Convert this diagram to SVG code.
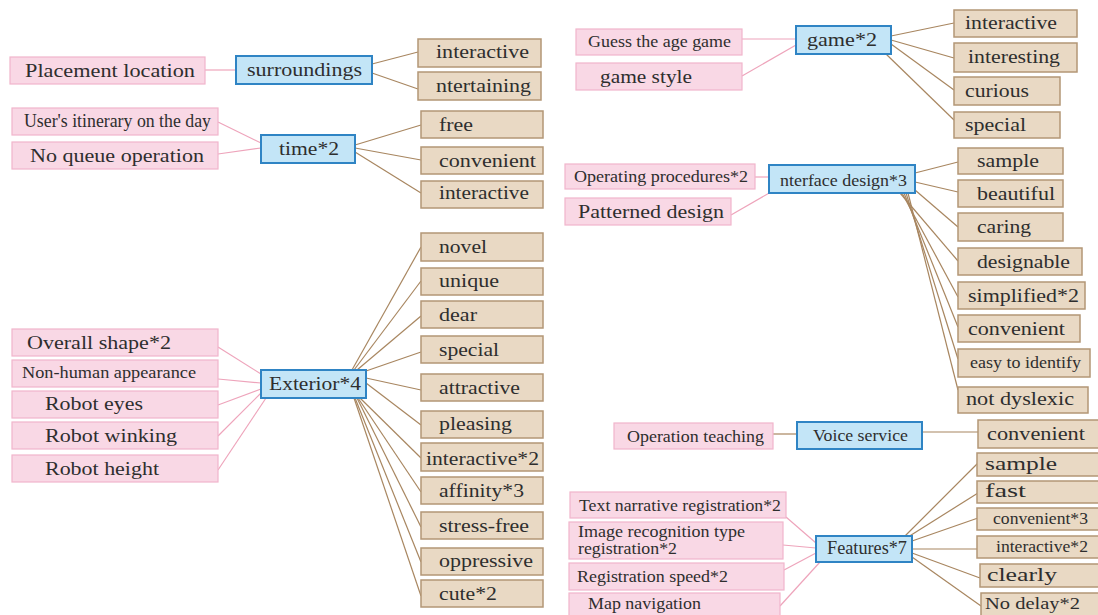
<svg xmlns="http://www.w3.org/2000/svg" width="1098" height="615" viewBox="0 0 1098 615">
<style>
text{font-family:"Liberation Serif","Times New Roman",serif;fill:#2e2e2e;font-size:18.5px}
.s{font-size:16px}
.m{font-size:17px}
.p{fill:#f9d8e5;stroke:#f1b5cb;stroke-width:1.2}
.b{fill:#c3e5f7;stroke:#2f84c4;stroke-width:2}
.t{fill:#e9d9c4;stroke:#b39676;stroke-width:1.5}
.lb{stroke:#a88660;stroke-width:1.2;fill:none}
.lp{stroke:#eea4bb;stroke-width:1.2;fill:none}
</style>
<rect width="1098" height="615" fill="#ffffff"/>
<g id="connectors">
<line class="lp" x1="205" y1="70" x2="236" y2="70"/>
<line class="lp" x1="218" y1="122" x2="261" y2="143"/>
<line class="lp" x1="218" y1="154" x2="261" y2="148"/>
<line class="lp" x1="218" y1="347" x2="261" y2="374"/>
<line class="lp" x1="218" y1="379" x2="261" y2="383"/>
<line class="lp" x1="218" y1="405" x2="261" y2="389"/>
<line class="lp" x1="218" y1="436" x2="261" y2="393"/>
<line class="lp" x1="218" y1="470" x2="266" y2="398"/>
<line class="lp" x1="742" y1="39" x2="796" y2="39"/>
<line class="lp" x1="742" y1="76" x2="796" y2="45"/>
<line class="lp" x1="755" y1="177" x2="769" y2="177"/>
<line class="lp" x1="731" y1="215" x2="771" y2="192"/>
<line class="lp" x1="786" y1="517" x2="816" y2="543"/>
<line class="lp" x1="783" y1="545" x2="816" y2="548"/>
<line class="lp" x1="784" y1="570" x2="816" y2="553"/>
<line class="lp" x1="780" y1="606" x2="820" y2="562"/>
<line class="lb" x1="372" y1="64" x2="418" y2="52"/>
<line class="lb" x1="372" y1="73" x2="418" y2="89"/>
<line class="lb" x1="355" y1="145" x2="421" y2="125"/>
<line class="lb" x1="355" y1="148" x2="421" y2="160"/>
<line class="lb" x1="355" y1="152" x2="421" y2="193"/>
<line class="lb" x1="352" y1="370" x2="421" y2="247"/>
<line class="lb" x1="354" y1="370" x2="421" y2="281"/>
<line class="lb" x1="357" y1="370" x2="421" y2="316"/>
<line class="lb" x1="366" y1="371" x2="421" y2="352"/>
<line class="lb" x1="366" y1="378" x2="421" y2="390"/>
<line class="lb" x1="366" y1="383" x2="421" y2="425"/>
<line class="lb" x1="360" y1="398" x2="421" y2="458"/>
<line class="lb" x1="358" y1="398" x2="421" y2="492"/>
<line class="lb" x1="357" y1="398" x2="421" y2="527"/>
<line class="lb" x1="355" y1="398" x2="421" y2="562"/>
<line class="lb" x1="354" y1="398" x2="421" y2="596"/>
<line class="lb" x1="891" y1="36" x2="954" y2="23"/>
<line class="lb" x1="891" y1="40" x2="954" y2="58"/>
<line class="lb" x1="891" y1="44" x2="954" y2="90"/>
<line class="lb" x1="886" y1="54" x2="954" y2="120"/>
<line class="lb" x1="915" y1="173" x2="958" y2="162"/>
<line class="lb" x1="915" y1="182" x2="958" y2="192"/>
<line class="lb" x1="915" y1="190" x2="958" y2="227"/>
<line class="lb" x1="900" y1="193" x2="958" y2="261"/>
<line class="lb" x1="902" y1="193" x2="958" y2="297"/>
<line class="lb" x1="904" y1="193" x2="958" y2="327"/>
<line class="lb" x1="906" y1="193" x2="958" y2="359"/>
<line class="lb" x1="908" y1="193" x2="958" y2="390"/>
<line class="lb" x1="773" y1="434" x2="797" y2="434"/>
<line class="lb" x1="922" y1="432" x2="978" y2="432"/>
<line class="lb" x1="905" y1="536" x2="978" y2="463"/>
<line class="lb" x1="908" y1="537" x2="978" y2="493"/>
<line class="lb" x1="912" y1="541" x2="978" y2="518"/>
<line class="lb" x1="912" y1="549" x2="978" y2="549"/>
<line class="lb" x1="912" y1="553" x2="980" y2="578"/>
<line class="lb" x1="912" y1="557" x2="981" y2="606"/>
</g>
<g id="n-placement"><rect class="p" x="10" y="57" width="195" height="27"/><text x="25" y="77" textLength="170" lengthAdjust="spacingAndGlyphs">Placement location</text></g>
<g id="n-itinerary"><rect class="p" x="12" y="108" width="206" height="27"/><text x="24" y="127" font-size="15" textLength="187" lengthAdjust="spacingAndGlyphs">User's itinerary on the day</text></g>
<g id="n-noqueue"><rect class="p" x="12" y="142" width="206" height="27"/><text x="30" y="162" textLength="174" lengthAdjust="spacingAndGlyphs">No queue operation</text></g>
<g id="n-overall"><rect class="p" x="12" y="329" width="206" height="27"/><text x="27" y="349" textLength="144" lengthAdjust="spacingAndGlyphs">Overall shape*2</text></g>
<g id="n-nonhuman"><rect class="p" x="12" y="360" width="206" height="27"/><text class="s" x="22" y="378" textLength="174" lengthAdjust="spacingAndGlyphs">Non-human appearance</text></g>
<g id="n-eyes"><rect class="p" x="12" y="391" width="206" height="27"/><text x="45" y="410" textLength="98" lengthAdjust="spacingAndGlyphs">Robot eyes</text></g>
<g id="n-winking"><rect class="p" x="12" y="422" width="206" height="27"/><text x="45" y="442" textLength="132" lengthAdjust="spacingAndGlyphs">Robot winking</text></g>
<g id="n-height"><rect class="p" x="12" y="455" width="206" height="27"/><text x="45" y="475" textLength="114" lengthAdjust="spacingAndGlyphs">Robot height</text></g>
<g id="n-guess"><rect class="p" x="576" y="29" width="166" height="26"/><text class="s" x="588" y="47" textLength="143" lengthAdjust="spacingAndGlyphs">Guess the age game</text></g>
<g id="n-gamestyle"><rect class="p" x="576" y="63" width="166" height="27"/><text x="600" y="83" textLength="92" lengthAdjust="spacingAndGlyphs">game style</text></g>
<g id="n-operating"><rect class="p" x="565" y="164" width="190" height="25"/><text class="m" x="574" y="182" textLength="174" lengthAdjust="spacingAndGlyphs">Operating procedures*2</text></g>
<g id="n-patterned"><rect class="p" x="565" y="198" width="166" height="27"/><text x="578" y="218" textLength="146" lengthAdjust="spacingAndGlyphs">Patterned design</text></g>
<g id="n-opteach"><rect class="p" x="614" y="423" width="159" height="26"/><text class="m" x="627" y="442" textLength="137" lengthAdjust="spacingAndGlyphs">Operation teaching</text></g>
<g id="n-textnarr"><rect class="p" x="570" y="492" width="216" height="26"/><text class="m" x="579" y="511" textLength="202" lengthAdjust="spacingAndGlyphs">Text narrative registration*2</text></g>
<g id="n-imagerec"><rect class="p" x="569" y="522" width="214" height="37"/><text class="m" x="578" y="537" textLength="167" lengthAdjust="spacingAndGlyphs">Image recognition type</text><text class="m" x="578" y="554" textLength="99" lengthAdjust="spacingAndGlyphs">registration*2</text></g>
<g id="n-regspeed"><rect class="p" x="569" y="563" width="215" height="27"/><text class="m" x="577" y="582" textLength="151" lengthAdjust="spacingAndGlyphs">Registration speed*2</text></g>
<g id="n-mapnav"><rect class="p" x="569" y="593" width="211" height="25"/><text class="m" x="588" y="609" textLength="113" lengthAdjust="spacingAndGlyphs">Map navigation</text></g>
<g id="n-surroundings"><rect class="b" x="236" y="56" width="136" height="28"/><text x="247" y="76" textLength="115" lengthAdjust="spacingAndGlyphs">surroundings</text></g>
<g id="n-time"><rect class="b" x="261" y="135" width="94" height="28"/><text x="279" y="155" textLength="60" lengthAdjust="spacingAndGlyphs">time*2</text></g>
<g id="n-exterior"><rect class="b" x="261" y="370" width="105" height="28"/><text x="269" y="390" textLength="92" lengthAdjust="spacingAndGlyphs">Exterior*4</text></g>
<g id="n-game"><rect class="b" x="796" y="26" width="95" height="28"/><text x="807" y="46" textLength="70" lengthAdjust="spacingAndGlyphs">game*2</text></g>
<g id="n-interface"><rect class="b" x="769" y="165" width="146" height="28"/><text class="m" x="780" y="186" textLength="127" lengthAdjust="spacingAndGlyphs">nterface design*3</text></g>
<g id="n-voice"><rect class="b" x="797" y="422" width="125" height="27"/><text class="m" x="813" y="441" textLength="95" lengthAdjust="spacingAndGlyphs">Voice service</text></g>
<g id="n-features"><rect class="b" x="816" y="536" width="96" height="26"/><text x="827" y="554" font-size="18" textLength="80" lengthAdjust="spacingAndGlyphs">Features*7</text></g>
<g id="n-s-interactive"><rect class="t" x="418" y="39" width="123" height="28"/><text x="436" y="58" textLength="93" lengthAdjust="spacingAndGlyphs">interactive</text></g>
<g id="n-s-entertaining"><rect class="t" x="418" y="72" width="123" height="28"/><text x="436" y="92" textLength="95" lengthAdjust="spacingAndGlyphs">ntertaining</text></g>
<g id="n-t-free"><rect class="t" x="421" y="111" width="122" height="27"/><text x="439" y="131" textLength="34" lengthAdjust="spacingAndGlyphs">free</text></g>
<g id="n-t-convenient"><rect class="t" x="421" y="147" width="122" height="27"/><text x="439" y="167" textLength="97" lengthAdjust="spacingAndGlyphs">convenient</text></g>
<g id="n-t-interactive"><rect class="t" x="421" y="181" width="122" height="27"/><text x="439" y="199" textLength="90" lengthAdjust="spacingAndGlyphs">interactive</text></g>
<g id="n-e-novel"><rect class="t" x="421" y="233" width="122" height="28"/><text x="439" y="253" textLength="48" lengthAdjust="spacingAndGlyphs">novel</text></g>
<g id="n-e-unique"><rect class="t" x="421" y="268" width="122" height="27"/><text x="439" y="287" textLength="60" lengthAdjust="spacingAndGlyphs">unique</text></g>
<g id="n-e-dear"><rect class="t" x="421" y="301" width="122" height="27"/><text x="439" y="321" textLength="38" lengthAdjust="spacingAndGlyphs">dear</text></g>
<g id="n-e-special"><rect class="t" x="421" y="336" width="122" height="27"/><text x="439" y="356" textLength="60" lengthAdjust="spacingAndGlyphs">special</text></g>
<g id="n-e-attractive"><rect class="t" x="421" y="374" width="122" height="27"/><text x="439" y="394" textLength="81" lengthAdjust="spacingAndGlyphs">attractive</text></g>
<g id="n-e-pleasing"><rect class="t" x="421" y="411" width="122" height="27"/><text x="439" y="430" textLength="73" lengthAdjust="spacingAndGlyphs">pleasing</text></g>
<g id="n-e-interactive2"><rect class="t" x="421" y="443" width="122" height="28"/><text x="426" y="465" textLength="113" lengthAdjust="spacingAndGlyphs">interactive*2</text></g>
<g id="n-e-affinity"><rect class="t" x="421" y="477" width="122" height="27"/><text x="439" y="497" textLength="85" lengthAdjust="spacingAndGlyphs">affinity*3</text></g>
<g id="n-e-stressfree"><rect class="t" x="421" y="512" width="122" height="27"/><text x="439" y="532" textLength="90" lengthAdjust="spacingAndGlyphs">stress-free</text></g>
<g id="n-e-oppressive"><rect class="t" x="421" y="548" width="122" height="27"/><text x="439" y="567" textLength="94" lengthAdjust="spacingAndGlyphs">oppressive</text></g>
<g id="n-e-cute"><rect class="t" x="421" y="580" width="122" height="27"/><text x="439" y="600" textLength="58" lengthAdjust="spacingAndGlyphs">cute*2</text></g>
<g id="n-g-interactive"><rect class="t" x="954" y="10" width="123" height="27"/><text x="965" y="29" textLength="92" lengthAdjust="spacingAndGlyphs">interactive</text></g>
<g id="n-g-interesting"><rect class="t" x="954" y="43" width="123" height="29"/><text x="968" y="63" textLength="92" lengthAdjust="spacingAndGlyphs">interesting</text></g>
<g id="n-g-curious"><rect class="t" x="954" y="77" width="106" height="28"/><text x="965" y="97" textLength="64" lengthAdjust="spacingAndGlyphs">curious</text></g>
<g id="n-g-special"><rect class="t" x="954" y="112" width="106" height="26"/><text x="965" y="131" textLength="61" lengthAdjust="spacingAndGlyphs">special</text></g>
<g id="n-i-sample"><rect class="t" x="958" y="148" width="105" height="26"/><text x="977" y="167" textLength="62" lengthAdjust="spacingAndGlyphs">sample</text></g>
<g id="n-i-beautiful"><rect class="t" x="958" y="180" width="105" height="27"/><text x="977" y="200" textLength="78" lengthAdjust="spacingAndGlyphs">beautiful</text></g>
<g id="n-i-caring"><rect class="t" x="958" y="213" width="105" height="28"/><text x="977" y="233" textLength="54" lengthAdjust="spacingAndGlyphs">caring</text></g>
<g id="n-i-designable"><rect class="t" x="958" y="248" width="124" height="27"/><text x="977" y="268" textLength="93" lengthAdjust="spacingAndGlyphs">designable</text></g>
<g id="n-i-simplified"><rect class="t" x="958" y="282" width="127" height="27"/><text x="968" y="302" textLength="111" lengthAdjust="spacingAndGlyphs">simplified*2</text></g>
<g id="n-i-convenient"><rect class="t" x="958" y="315" width="122" height="27"/><text x="968" y="335" textLength="97" lengthAdjust="spacingAndGlyphs">convenient</text></g>
<g id="n-i-easy"><rect class="t" x="958" y="349" width="132" height="28"/><text class="s" x="970" y="368" textLength="111" lengthAdjust="spacingAndGlyphs">easy to identify</text></g>
<g id="n-i-dyslexic"><rect class="t" x="958" y="387" width="130" height="26"/><text x="966" y="405" textLength="108" lengthAdjust="spacingAndGlyphs">not dyslexic</text></g>
<g id="n-v-convenient"><rect class="t" x="978" y="420" width="125" height="28"/><text x="987" y="440" textLength="98" lengthAdjust="spacingAndGlyphs">convenient</text></g>
<g id="n-f-sample"><rect class="t" x="977" y="453" width="126" height="23"/><text x="985" y="470" textLength="72" lengthAdjust="spacingAndGlyphs">sample</text></g>
<g id="n-f-fast"><rect class="t" x="977" y="481" width="126" height="22"/><text x="985" y="497" textLength="41" lengthAdjust="spacingAndGlyphs">fast</text></g>
<g id="n-f-convenient3"><rect class="t" x="977" y="508" width="126" height="22"/><text class="s" x="993" y="524" textLength="95" lengthAdjust="spacingAndGlyphs">convenient*3</text></g>
<g id="n-f-interactive2"><rect class="t" x="977" y="536" width="126" height="22"/><text class="s" x="996" y="552" textLength="92" lengthAdjust="spacingAndGlyphs">interactive*2</text></g>
<g id="n-f-clearly"><rect class="t" x="980" y="564" width="123" height="23"/><text x="987" y="581" textLength="70" lengthAdjust="spacingAndGlyphs">clearly</text></g>
<g id="n-f-nodelay"><rect class="t" x="981" y="593" width="122" height="25"/><text class="s" x="985" y="609" textLength="95" lengthAdjust="spacingAndGlyphs">No delay*2</text></g>
</svg>
